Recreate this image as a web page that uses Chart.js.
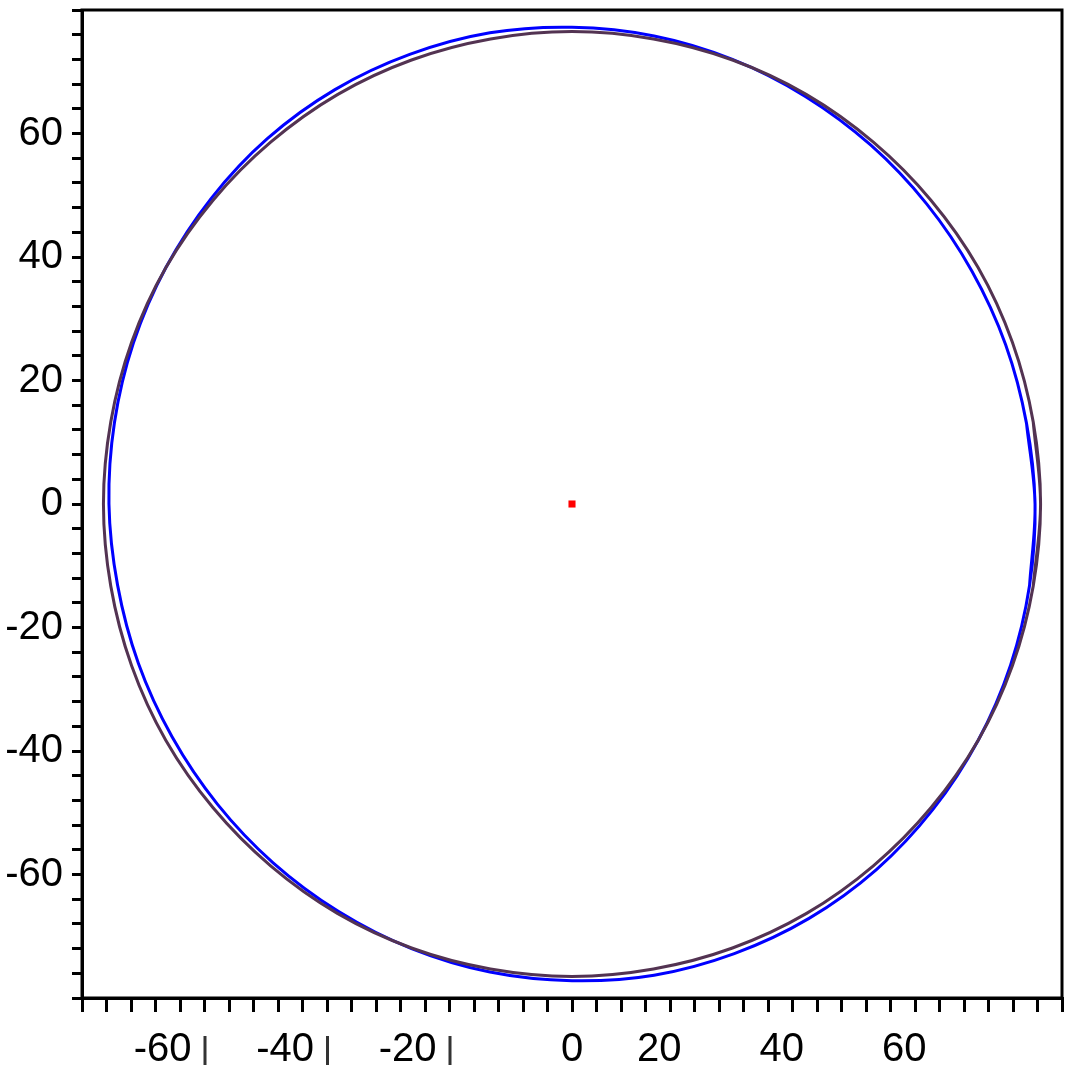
<!DOCTYPE html>
<html>
<head>
<meta charset="utf-8">
<script src="https://cdn.jsdelivr.net/npm/chart.js@4.4.1/dist/chart.umd.min.js"></script>
<style>
  html, body { margin: 0; padding: 0; background: #ffffff; }
  #plot { display: block; }
</style>
</head>
<body>
<canvas id="plot" width="1076" height="1076"></canvas>
<script>
// outer curve (dark purple), one point every 10 degrees from 350 round to 370
const purpleX = [75.3, 76.5, 75.3, 71.9, 66.3, 58.6, 49.2, 38.3, 26.2, 13.3, 0, -13.3, -26.2, -38.3, -49.2, -58.6, -66.3, -71.9, -75.3,
  -76.5, -75.3, -71.9, -66.3, -58.6, -49.2, -38.3, -26.2, -13.3, 0, 13.3, 26.2, 38.3, 49.2, 58.6, 66.3, 71.9, 75.3, 76.5, 75.3];
const purpleY = [-13.3, 0, 13.3, 26.2, 38.3, 49.2, 58.6, 66.3, 71.9, 75.3, 76.5, 75.3, 71.9, 66.3, 58.6, 49.2, 38.3, 26.2, 13.3,
  0, -13.3, -26.2, -38.3, -49.2, -58.6, -66.3, -71.9, -75.3, -76.5, -75.3, -71.9, -66.3, -58.6, -49.2, -38.3, -26.2, -13.3, 0, 13.3];

// blue curve, slightly taller than wide
const blueX = [74.7, 75.6, 74.2, 70.8, 65.3, 57.9, 48.8, 38.1, 26.2, 13.4, 0, -13.4, -26.5, -38.7, -49.7, -58.9, -66.3, -71.6, -74.7,
  -75.6, -74.2, -70.8, -65.3, -57.9, -48.8, -38.1, -26.2, -13.4, 0, 13.4, 26.5, 38.7, 49.7, 58.9, 66.3, 71.6, 74.7, 75.6, 74.2];
const blueY = [-13.2, 0, 13.1, 25.8, 37.7, 48.6, 58.1, 66.0, 72.0, 75.8, 77.2, 76.3, 72.8, 67.1, 59.2, 49.5, 38.3, 26.1, 13.2,
  0, -13.1, -25.8, -37.7, -48.6, -58.1, -66.0, -72.0, -75.8, -77.2, -76.3, -72.8, -67.1, -59.2, -49.5, -38.3, -26.1, -13.2, 0, 13.1];

// centre point
const centreX = [0];
const centreY = [0];

// axis ticks
const axisMin = -80;
const axisMax = 80;
const tickStep = 4;
const labelValues = [-60, -40, -20, 0, 20, 40, 60];

const toPoints = (xs, ys) => xs.map((x, i) => ({ x, y: ys[i] }));

const fontFamily = "'Liberation Sans Narrow', 'Liberation Sans', Arial, sans-serif";
const labelFont = `40px ${fontFamily}`;

const framePlugin = {
  id: "frame",
  afterDraw: (chart) => {
    const { ctx, chartArea } = chart;
    ctx.save();
    ctx.strokeStyle = "#000000";
    ctx.lineWidth = 3;
    ctx.strokeRect(chartArea.left, chartArea.top, chartArea.right - chartArea.left, chartArea.bottom - chartArea.top);
    ctx.restore();
  },
};

// x labels are drawn by hand: the original puts them left of their ticks, except "0"
const xLabelPlugin = {
  id: "xLabels",
  afterDraw: (chart) => {
    const { ctx } = chart;
    const scale = chart.scales.x;
    const mid = scale.top + 52;
    ctx.save();
    ctx.font = labelFont;
    ctx.fillStyle = "#000000";
    ctx.textBaseline = "middle";
    labelValues.forEach((value) => {
      const px = scale.getPixelForValue(value);
      if (value === 0) {
        ctx.textAlign = "center";
        ctx.fillText(String(value), px, mid);
        return;
      }
      ctx.textAlign = "right";
      ctx.fillText(String(value), px - 13, mid);
      if (value < 0) {
        ctx.fillStyle = "#333333";
        ctx.fillRect(px - 1, mid - 14, 3, 29);
        ctx.fillStyle = "#000000";
      }
    });
    ctx.restore();
  },
};

new Chart(document.getElementById("plot"), {
  type: "scatter",
  data: {
    datasets: [
      {
        backgroundColor: "#ff0000",
        borderWidth: 0,
        data: toPoints(centreX, centreY),
        pointRadius: 5,
        pointStyle: "rect",
      },
      {
        borderColor: "#533352",
        borderWidth: 3,
        data: toPoints(purpleX, purpleY),
        pointRadius: 0,
        showLine: true,
        tension: 0.35,
      },
      {
        borderColor: "#0000ff",
        borderWidth: 3,
        data: toPoints(blueX, blueY),
        pointRadius: 0,
        showLine: true,
        tension: 0.35,
      },
    ],
  },
  options: {
    animation: false,
    responsive: false,
    layout: {
      padding: { top: 10, right: 14, left: 0, bottom: 0 },
    },
    plugins: {
      legend: { display: false },
      tooltip: { enabled: false },
    },
    scales: {
      x: {
        min: axisMin,
        max: axisMax,
        afterFit: (scale) => {
          scale.height = 78;
          scale.paddingLeft = 0;
          scale.paddingRight = 0;
        },
        border: { color: "#000000", width: 3 },
        grid: {
          color: "#000000",
          drawOnChartArea: false,
          lineWidth: 3,
          tickLength: 14,
        },
        ticks: {
          autoSkip: false,
          color: "rgba(0,0,0,0)",
          font: { family: fontFamily, size: 40 },
          maxRotation: 0,
          stepSize: tickStep,
          callback: () => "",
        },
      },
      y: {
        min: axisMin,
        max: axisMax,
        afterFit: (scale) => {
          scale.width = 82;
          scale.paddingTop = 0;
          scale.paddingBottom = 0;
        },
        border: { color: "#000000", width: 3 },
        grid: {
          color: "#000000",
          drawOnChartArea: false,
          lineWidth: 3,
          tickLength: 10,
        },
        ticks: {
          autoSkip: false,
          color: "#000000",
          font: { family: fontFamily, size: 40 },
          padding: 9,
          stepSize: tickStep,
          callback: (value) => (labelValues.includes(value) ? String(value) : ""),
        },
      },
    },
  },
  plugins: [framePlugin, xLabelPlugin],
});
</script>
</body>
</html>
